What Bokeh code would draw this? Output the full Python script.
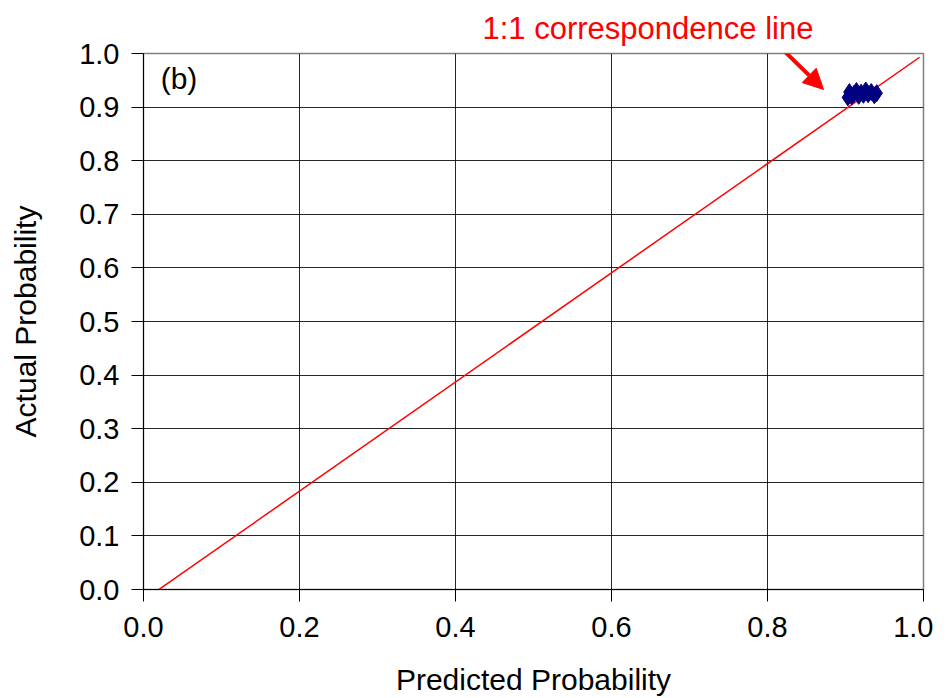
from bokeh.plotting import figure
from bokeh.models import FixedTicker, Label, Arrow, NormalHead, Range1d, NumeralTickFormatter, Title
from bokeh.embed import file_html
from bokeh.resources import INLINE

# data
pred = [0.903, 0.905, 0.908, 0.911, 0.914, 0.917, 0.920, 0.923, 0.926, 0.929, 0.933, 0.937, 0.940]
actual = [0.918, 0.928, 0.920, 0.925, 0.930, 0.921, 0.927, 0.923, 0.931, 0.924, 0.928, 0.922, 0.926]
corr_x = [0.005, 0.995]
corr_y = [-0.015, 0.993]
x_ticks = [0.0, 0.2, 0.4, 0.6, 0.8, 1.0]
y_ticks = [0.0, 0.1, 0.2, 0.3, 0.4, 0.5, 0.6, 0.7, 0.8, 0.9, 1.0]

FONT = "Liberation Sans"

p = figure(width=933, height=698, output_backend="svg", toolbar_location=None,
           x_range=Range1d(0, 1), y_range=Range1d(0, 1),
           min_border_left=143, min_border_right=10, min_border_top=53, min_border_bottom=108)
p.background_fill_color = "white"
p.border_fill_color = "white"
p.outline_line_color = "#808080"
p.outline_line_width = 1.5

title = Title(text="1:1 correspondence line", align="left", offset=339,
              text_font=FONT, text_font_size="31px", text_font_style="normal",
              text_color="#ff0000", standoff=15)
p.add_layout(title, "above")

p.xaxis.ticker = FixedTicker(ticks=x_ticks)
p.yaxis.ticker = FixedTicker(ticks=y_ticks)
p.xaxis.formatter = NumeralTickFormatter(format="0.0")
p.yaxis.formatter = NumeralTickFormatter(format="0.0")
for ax in (p.xaxis, p.yaxis):
    ax.major_label_text_font = FONT
    ax.major_label_text_font_size = "29px"
    ax.major_label_text_color = "black"
    ax.axis_label_text_font = FONT
    ax.axis_label_text_font_size = "30px"
    ax.axis_label_text_font_style = "normal"
    ax.axis_label_text_color = "black"
    ax.major_tick_out = 12
    ax.major_tick_in = 0
    ax.minor_tick_out = 0
    ax.minor_tick_in = 0
    ax.axis_line_color = "black"
    ax.major_tick_line_color = "black"
p.xaxis.axis_label = "Predicted Probability"
p.yaxis.axis_label = "Actual Probability"
p.xaxis.major_label_standoff = 15
p.yaxis.major_label_standoff = 12
p.xaxis.axis_label_standoff = 23
p.yaxis.axis_label_standoff = 34

p.xgrid.ticker = FixedTicker(ticks=x_ticks)
p.ygrid.ticker = FixedTicker(ticks=y_ticks)
p.grid.grid_line_color = "black"
p.grid.grid_line_width = 1
p.grid.grid_line_alpha = 0.85

p.line(corr_x, corr_y, line_color="#ff0000", line_width=1.5)
p.scatter(pred, actual, marker="diamond", size=17, fill_color="#000080", line_color="#000080")

p.add_layout(Label(x=0.022, y=0.953, text="(b)", text_font=FONT, text_font_size="30px",
                   text_baseline="middle", text_align="left", text_color="black"))
p.add_layout(Arrow(x_start=0.8205, y_start=1.006, x_end=0.8718, y_end=0.933,
                   line_color="#ff0000", line_width=4,
                   end=NormalHead(size=20, fill_color="#ff0000", line_color="#ff0000")))

open("out.html", "w").write(file_html(p, INLINE))
